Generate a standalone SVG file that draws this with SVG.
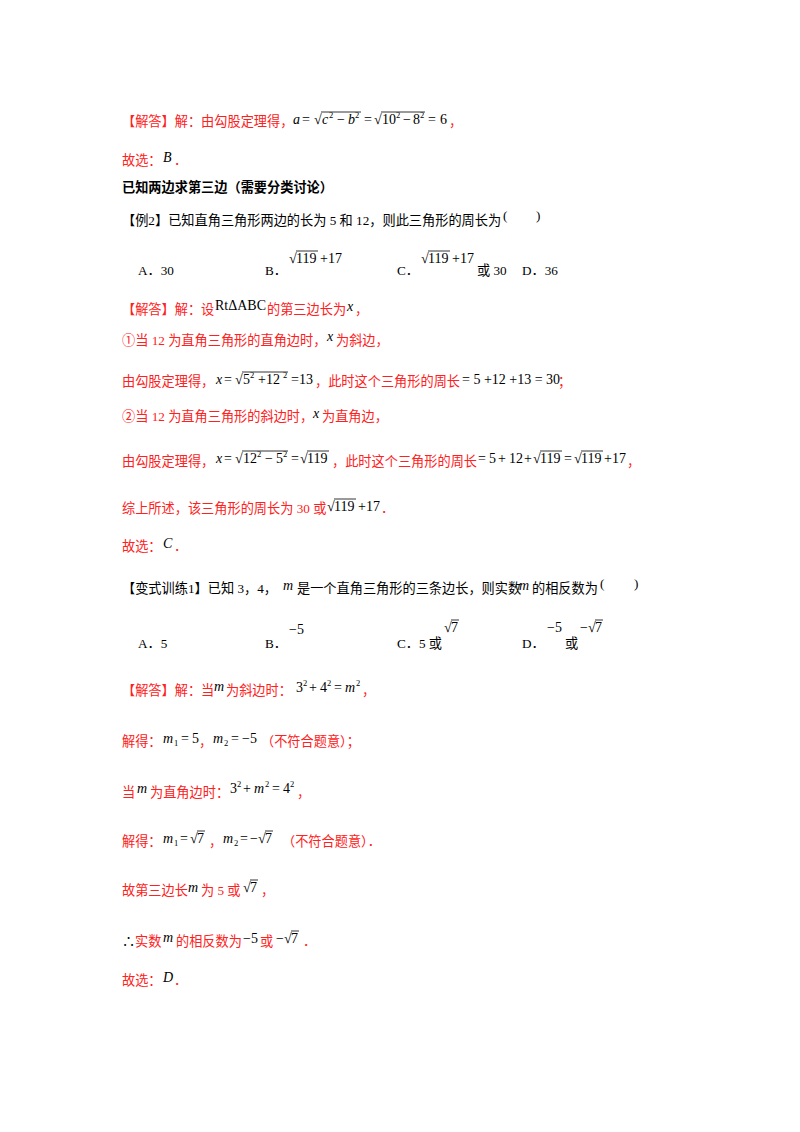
<svg xmlns="http://www.w3.org/2000/svg" width="800" height="1132" viewBox="0 0 800 1132">
<style>
text{font-family:"Liberation Serif","Noto Sans CJK SC",serif;font-size:13.2px}
.r{fill:#ff2020}
.k{fill:#000}
.b{font-weight:bold;fill:#000}
.m{fill:#000;font-size:14px}
.i{font-style:italic}
.s{font-size:8.5px}
line{stroke:#000;stroke-width:0.8}
</style>
<rect width="800" height="1132" fill="#fff"/>
<g id="p1">
<text x="122" y="126" class="r">【解答】解：由勾股定理得，</text>
<text y="124" class="m"><tspan x="293" class="i">a</tspan><tspan x="302">=</tspan><tspan x="314">√</tspan><tspan x="322" class="i">c</tspan><tspan x="329" y="118" class="s">2</tspan><tspan x="337" y="124">−</tspan><tspan x="348" class="i">b</tspan><tspan x="355" y="118" class="s">2</tspan><tspan x="364" y="124">=</tspan><tspan x="374">√</tspan><tspan x="382">10</tspan><tspan x="396" y="118" class="s">2</tspan><tspan x="403" y="124">−</tspan><tspan x="413">8</tspan><tspan x="420" y="118" class="s">2</tspan><tspan x="428" y="124">=</tspan><tspan x="440">6</tspan></text>
<line x1="321" y1="112" x2="361" y2="112"/><line x1="381" y1="112" x2="425" y2="112"/>
<text x="449" y="126" class="r">，</text>
<text x="122" y="165" class="r">故选：</text>
<text x="163" y="162" class="m i">B</text><text x="174" y="165" class="r">．</text>
<text x="122" y="192" class="b">已知两边求第三边（需要分类讨论）</text>
<text x="122" y="225" class="k">【例2】已知直角三角形两边的长为 5 和 12，则此三角形的周长为</text>
<text x="503" y="220" class="k">(</text><text x="536" y="220" class="k">)</text>
<text x="138" y="275" class="k">A．30</text>
<text x="265" y="275" class="k">B．</text>
<text y="263" class="m"><tspan x="289">√</tspan><tspan x="296">119</tspan><tspan x="320">+17</tspan></text><line x1="296" y1="251" x2="318" y2="251"/>
<text x="397" y="275" class="k">C．</text>
<text y="263" class="m"><tspan x="421">√</tspan><tspan x="428">119</tspan><tspan x="452">+17</tspan></text><line x1="428" y1="251" x2="450" y2="251"/>
<text x="477" y="275" class="k">或 30</text>
<text x="522" y="275" class="k">D．36</text>
</g>
<g id="p2">
<text x="122" y="314" class="r">【解答】解：设</text>
<text x="215" y="310" class="m">RtΔABC</text>
<text x="267" y="314" class="r">的第三边长为</text>
<text x="347" y="311" class="m i">x</text><text x="355" y="314" class="r">，</text>
<text x="122" y="345" class="r">①当 12 为直角三角形的直角边时，</text>
<text x="327" y="341" class="m i">x</text><text x="336" y="345" class="r">为斜边，</text>
<text x="122" y="386" class="r">由勾股定理得，</text>
<text y="384" class="m"><tspan x="216" class="i">x</tspan><tspan x="224">=</tspan><tspan x="235">√</tspan><tspan x="243">5</tspan><tspan x="250" y="378" class="s">2</tspan><tspan x="258" y="384">+12</tspan><tspan x="283" y="378" class="s">2</tspan><tspan x="291" y="384">=13</tspan></text>
<line x1="242" y1="372" x2="288" y2="372"/>
<text x="315" y="386" class="r">，此时这个三角形的周长</text>
<text x="462" y="384" class="m">= 5 +12 +13 = 30</text>
<text x="558" y="386" class="r">；</text>
<text x="122" y="421" class="r">②当 12 为直角三角形的斜边时，</text>
<text x="313" y="418" class="m i">x</text><text x="322" y="421" class="r">为直角边，</text>
<text x="122" y="466" class="r">由勾股定理得，</text>
<text y="463" class="m"><tspan x="216" class="i">x</tspan><tspan x="224">=</tspan><tspan x="235">√</tspan><tspan x="243">12</tspan><tspan x="257" y="457" class="s">2</tspan><tspan x="265" y="463">−</tspan><tspan x="276">5</tspan><tspan x="283" y="457" class="s">2</tspan><tspan x="291" y="463">=</tspan><tspan x="300">√</tspan><tspan x="307">119</tspan></text>
<line x1="242" y1="451" x2="288" y2="451"/><line x1="307" y1="451" x2="329" y2="451"/>
<text x="332" y="466" class="r">，此时这个三角形的周长</text>
<text y="463" class="m"><tspan x="478">=</tspan><tspan x="489">5</tspan><tspan x="498">+</tspan><tspan x="509">12</tspan><tspan x="524">+</tspan><tspan x="533">√</tspan><tspan x="540">119</tspan><tspan x="564">=</tspan><tspan x="574">√</tspan><tspan x="581">119</tspan><tspan x="604">+17</tspan></text>
<line x1="540" y1="451" x2="562" y2="451"/><line x1="581" y1="451" x2="603" y2="451"/>
<text x="627" y="466" class="r">，</text>
<text x="122" y="513" class="r">综上所述，该三角形的周长为 30 或</text>
<text y="511" class="m"><tspan x="327">√</tspan><tspan x="334">119</tspan><tspan x="358">+17</tspan></text><line x1="334" y1="499" x2="356" y2="499"/>
<text x="381" y="513" class="r">．</text>
<text x="122" y="551" class="r">故选：</text>
<text x="163" y="548" class="m i">C</text><text x="174" y="551" class="r">．</text>
</g>
<g id="p3">
<text x="122" y="593" class="k">【变式训练1】已知 3，4，</text>
<text x="283" y="590" class="m i">m</text>
<text x="297" y="593" class="k">是一个直角三角形的三条边长，则实数</text>
<text x="519" y="590" class="m i">m</text>
<text x="532" y="593" class="k">的相反数为</text>
<text x="600" y="588" class="k">(</text><text x="634" y="588" class="k">)</text>
<text x="138" y="648" class="k">A．5</text>
<text x="265" y="648" class="k">B．</text><text x="289" y="634" class="m">−5</text>
<text x="397" y="648" class="k">C．5 或</text>
<text y="632" class="m"><tspan x="444">√</tspan><tspan x="451">7</tspan></text><line x1="451" y1="620" x2="459" y2="620"/>
<text x="522" y="648" class="k">D．</text><text x="547" y="632" class="m">−5</text>
<text x="565" y="648" class="k">或</text>
<text y="632" class="m"><tspan x="580">−</tspan><tspan x="588">√</tspan><tspan x="595">7</tspan></text><line x1="595" y1="620" x2="603" y2="620"/>
</g>
<g id="p4">
<text x="122" y="695" class="r">【解答】解：当</text>
<text x="214" y="691" class="m i">m</text>
<text x="226" y="695" class="r">为斜边时：</text>
<text y="692" class="m"><tspan x="296">3</tspan><tspan x="303" y="686" class="s">2</tspan><tspan x="309" y="692">+</tspan><tspan x="320">4</tspan><tspan x="327" y="686" class="s">2</tspan><tspan x="334" y="692">=</tspan><tspan x="345" class="i">m</tspan><tspan x="356" y="686" class="s">2</tspan></text>
<text x="362" y="695" class="r">，</text>
<text x="122" y="746" class="r">解得：</text>
<text y="743" class="m"><tspan x="163" class="i">m</tspan><tspan x="174" y="746" class="s">1</tspan><tspan x="181" y="743">=</tspan><tspan x="192">5</tspan></text>
<text x="199" y="746" class="r">，</text>
<text y="743" class="m"><tspan x="213" class="i">m</tspan><tspan x="224" y="746" class="s">2</tspan><tspan x="231" y="743">=</tspan><tspan x="242">−5</tspan></text>
<text x="261" y="746" class="r">（不符合题意）；</text>
<text x="122" y="797" class="r">当</text>
<text x="137" y="793" class="m i">m</text>
<text x="150" y="797" class="r">为直角边时：</text>
<text y="793" class="m"><tspan x="230">3</tspan><tspan x="237" y="787" class="s">2</tspan><tspan x="243" y="793">+</tspan><tspan x="254" class="i">m</tspan><tspan x="265" y="787" class="s">2</tspan><tspan x="272" y="793">=</tspan><tspan x="283">4</tspan><tspan x="290" y="787" class="s">2</tspan></text>
<text x="297" y="797" class="r">，</text>
<text x="122" y="846" class="r">解得：</text>
<text y="843" class="m"><tspan x="163" class="i">m</tspan><tspan x="174" y="846" class="s">1</tspan><tspan x="180" y="843">=</tspan><tspan x="190">√</tspan><tspan x="197">7</tspan></text>
<line x1="197" y1="831" x2="205" y2="831"/>
<text x="209" y="846" class="r">，</text>
<text y="843" class="m"><tspan x="223" class="i">m</tspan><tspan x="234" y="846" class="s">2</tspan><tspan x="240" y="843">=</tspan><tspan x="250">−</tspan><tspan x="258">√</tspan><tspan x="265">7</tspan></text>
<line x1="265" y1="831" x2="273" y2="831"/>
<text x="282" y="846" class="r">（不符合题意）．</text>
<text x="122" y="895" class="r">故第三边长</text>
<text x="188" y="892" class="m i">m</text>
<text x="201" y="895" class="r">为 5 或</text>
<text y="892" class="m"><tspan x="243">√</tspan><tspan x="250">7</tspan></text><line x1="250" y1="880" x2="258" y2="880"/>
<text x="261" y="895" class="r">，</text>
<text x="122" y="946" class="k">∴</text>
<text x="135" y="946" class="r">实数</text>
<text x="163" y="942" class="m i">m</text>
<text x="176" y="946" class="r">的相反数为</text>
<text x="243" y="943" class="m">−5</text>
<text x="260" y="946" class="r">或</text>
<text y="943" class="m"><tspan x="276">−</tspan><tspan x="284">√</tspan><tspan x="291">7</tspan></text><line x1="291" y1="931" x2="299" y2="931"/>
<text x="303" y="946" class="r">．</text>
<text x="122" y="985" class="r">故选：</text>
<text x="163" y="982" class="m i">D</text><text x="174" y="985" class="r">．</text>
</g>
</svg>
